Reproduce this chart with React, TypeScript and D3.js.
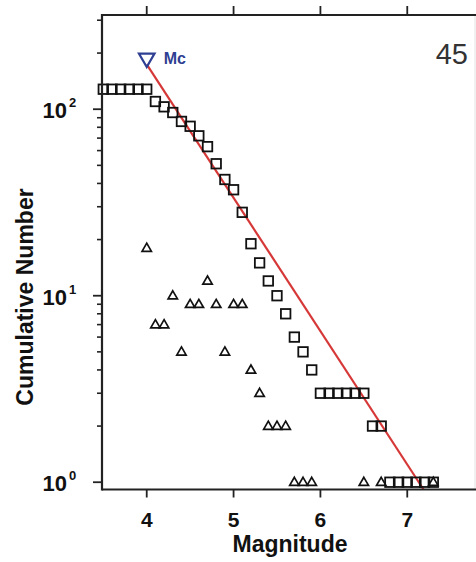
import React, { useEffect, useRef } from "react";
import * as d3 from "d3";

// cumulative number of events (squares)
const cumMags = [3.5, 3.6, 3.7, 3.8, 3.9, 4.0, 4.1, 4.2, 4.3, 4.4, 4.5, 4.6, 4.7, 4.8, 4.9, 5.0, 5.1, 5.2, 5.3, 5.4, 5.5, 5.6, 5.7, 5.8, 5.9, 6.0, 6.1, 6.2, 6.3, 6.4, 6.5, 6.6, 6.7, 6.8, 6.9, 7.0, 7.1, 7.2, 7.3];
const cumCounts = [128, 128, 128, 128, 128, 128, 110, 103, 96, 86, 81, 72, 63, 51, 42, 37, 28, 19, 15, 12, 10, 8, 6, 5, 4, 3, 3, 3, 3, 3, 3, 2, 2, 1, 1, 1, 1, 1, 1];

// non-cumulative number per bin (triangles)
const binMags = [4.0, 4.1, 4.2, 4.3, 4.4, 4.5, 4.6, 4.7, 4.8, 4.9, 5.0, 5.1, 5.2, 5.3, 5.4, 5.5, 5.6, 5.7, 5.8, 5.9, 6.5, 6.7, 7.3];
const binCounts = [18, 7, 7, 10, 5, 9, 9, 12, 9, 5, 9, 9, 4, 3, 2, 2, 2, 1, 1, 1, 1, 1, 1];

// Gutenberg-Richter fit: log N = a - b M, from Mc
const mc = 4.0;
const mcMarkerN = 188;
const grA = 5.1;
const grB = 0.715;

const xTicks = [4, 5, 6, 7];
const yMajor = [1, 10, 100];
const yExp = ["0", "1", "2"];
const yMinor = [2, 3, 4, 5, 6, 7, 8, 9, 20, 30, 40, 50, 60, 70, 80, 90, 200, 300];
const panelLabel = "45";

const W = 476;
const H = 562;

const App = () => {
  const ref = useRef<SVGSVGElement>(null);

  useEffect(() => {
    const svg = d3.select(ref.current);
    svg.selectAll("*").remove();

    const left = 102, right = 475, top = 15, bottom = 489.5;
    const x = d3.scaleLinear().domain([3.485, 7.78]).range([left, right]);
    const y = d3.scaleLog().domain([0.914, 320]).range([bottom, top]);
    const font = "'Liberation Sans', Arial, sans-serif";

    svg.append("rect").attr("width", W).attr("height", H).attr("fill", "#fff");

    // red fit line, clipped at the bottom axis
    const mEnd = (grA - Math.log10(y.domain()[0])) / grB;
    const fitMags = [mc, mEnd];
    svg.append("path")
      .datum(fitMags)
      .attr("d", d3.line<number>().x((m) => x(m)).y((m) => y(Math.pow(10, grA - grB * m))))
      .attr("stroke", "#d63838")
      .attr("stroke-width", 2.2)
      .attr("fill", "none");

    // squares
    const sq = 9.5;
    svg.append("g").selectAll("rect")
      .data(cumMags)
      .enter().append("rect")
      .attr("x", (d) => x(d) - sq / 2)
      .attr("y", (d, i) => y(cumCounts[i]) - sq / 2)
      .attr("width", sq)
      .attr("height", sq)
      .attr("fill", "none")
      .attr("stroke", "#111")
      .attr("stroke-width", 1.8);

    // triangles
    const tri = d3.symbol().type(d3.symbolTriangle).size(38);
    svg.append("g").selectAll("path")
      .data(binMags)
      .enter().append("path")
      .attr("d", tri)
      .attr("transform", (d, i) => `translate(${x(d)},${y(binCounts[i]) + 0.5})`)
      .attr("fill", "none")
      .attr("stroke", "#111")
      .attr("stroke-width", 1.7);

    // Mc marker
    svg.append("path")
      .attr("d", d3.symbol().type(d3.symbolTriangle).size(105))
      .attr("transform", `translate(${x(mc)},${y(mcMarkerN)}) rotate(180)`)
      .attr("fill", "none")
      .attr("stroke", "#2f3f92")
      .attr("stroke-width", 2.2);
    svg.append("text")
      .attr("x", x(mc) + 17)
      .attr("y", y(mcMarkerN) + 6)
      .attr("font-family", font)
      .attr("font-weight", "bold")
      .attr("font-size", 16)
      .attr("fill", "#2f3f92")
      .text("Mc");

    // panel label
    svg.append("text")
      .attr("x", 468)
      .attr("y", 64)
      .attr("text-anchor", "end")
      .attr("font-family", font)
      .attr("font-size", 29)
      .attr("fill", "#333")
      .text(panelLabel);

    // frame
    svg.append("line").attr("x1", right).attr("x2", right).attr("y1", top).attr("y2", bottom)
      .attr("stroke", "#e2e2e2").attr("stroke-width", 1);
    svg.append("line").attr("x1", left).attr("x2", W).attr("y1", top).attr("y2", top)
      .attr("stroke", "#222").attr("stroke-width", 2);
    svg.append("line").attr("x1", left).attr("x2", W).attr("y1", bottom).attr("y2", bottom)
      .attr("stroke", "#222").attr("stroke-width", 2.2);
    svg.append("line").attr("x1", left).attr("x2", left).attr("y1", top - 1).attr("y2", bottom + 1)
      .attr("stroke", "#222").attr("stroke-width", 2.2);

    // x ticks, bottom and top
    xTicks.forEach((t) => {
      svg.append("line").attr("x1", x(t)).attr("x2", x(t)).attr("y1", bottom).attr("y2", bottom + 8)
        .attr("stroke", "#222").attr("stroke-width", 1.8);
      svg.append("line").attr("x1", x(t)).attr("x2", x(t)).attr("y1", top).attr("y2", top - 9)
        .attr("stroke", "#222").attr("stroke-width", 1.8);
      svg.append("text")
        .attr("x", x(t))
        .attr("y", 527)
        .attr("text-anchor", "middle")
        .attr("font-family", font)
        .attr("font-weight", "bold")
        .attr("font-size", 21)
        .attr("fill", "#111")
        .text(t);
    });

    // y ticks
    yMinor.forEach((v) => {
      svg.append("line").attr("x1", left - 5).attr("x2", left).attr("y1", y(v)).attr("y2", y(v))
        .attr("stroke", "#222").attr("stroke-width", 1.6);
    });
    yMajor.forEach((v, i) => {
      svg.append("line").attr("x1", left - 9).attr("x2", left).attr("y1", y(v)).attr("y2", y(v))
        .attr("stroke", "#222").attr("stroke-width", 1.8);
      svg.append("text")
        .attr("x", 67)
        .attr("y", y(v) + 9)
        .attr("text-anchor", "end")
        .attr("font-family", font)
        .attr("font-weight", "bold")
        .attr("font-size", 22)
        .attr("fill", "#111")
        .text("10");
      svg.append("text")
        .attr("x", 69)
        .attr("y", y(v) - 2)
        .attr("font-family", font)
        .attr("font-weight", "bold")
        .attr("font-size", 13)
        .attr("fill", "#111")
        .text(yExp[i]);
    });

    // axis titles
    svg.append("text")
      .attr("x", 290)
      .attr("y", 552)
      .attr("text-anchor", "middle")
      .attr("font-family", font)
      .attr("font-weight", "bold")
      .attr("font-size", 23)
      .attr("fill", "#111")
      .text("Magnitude");
    svg.append("text")
      .attr("transform", "translate(33,297) rotate(-90)")
      .attr("text-anchor", "middle")
      .attr("font-family", font)
      .attr("font-weight", "bold")
      .attr("font-size", 23)
      .attr("fill", "#111")
      .text("Cumulative Number");
  }, []);

  return <svg ref={ref} width={W} height={H} style={{ position: "absolute", left: 0, top: 0 }}></svg>;
};

export default App;
